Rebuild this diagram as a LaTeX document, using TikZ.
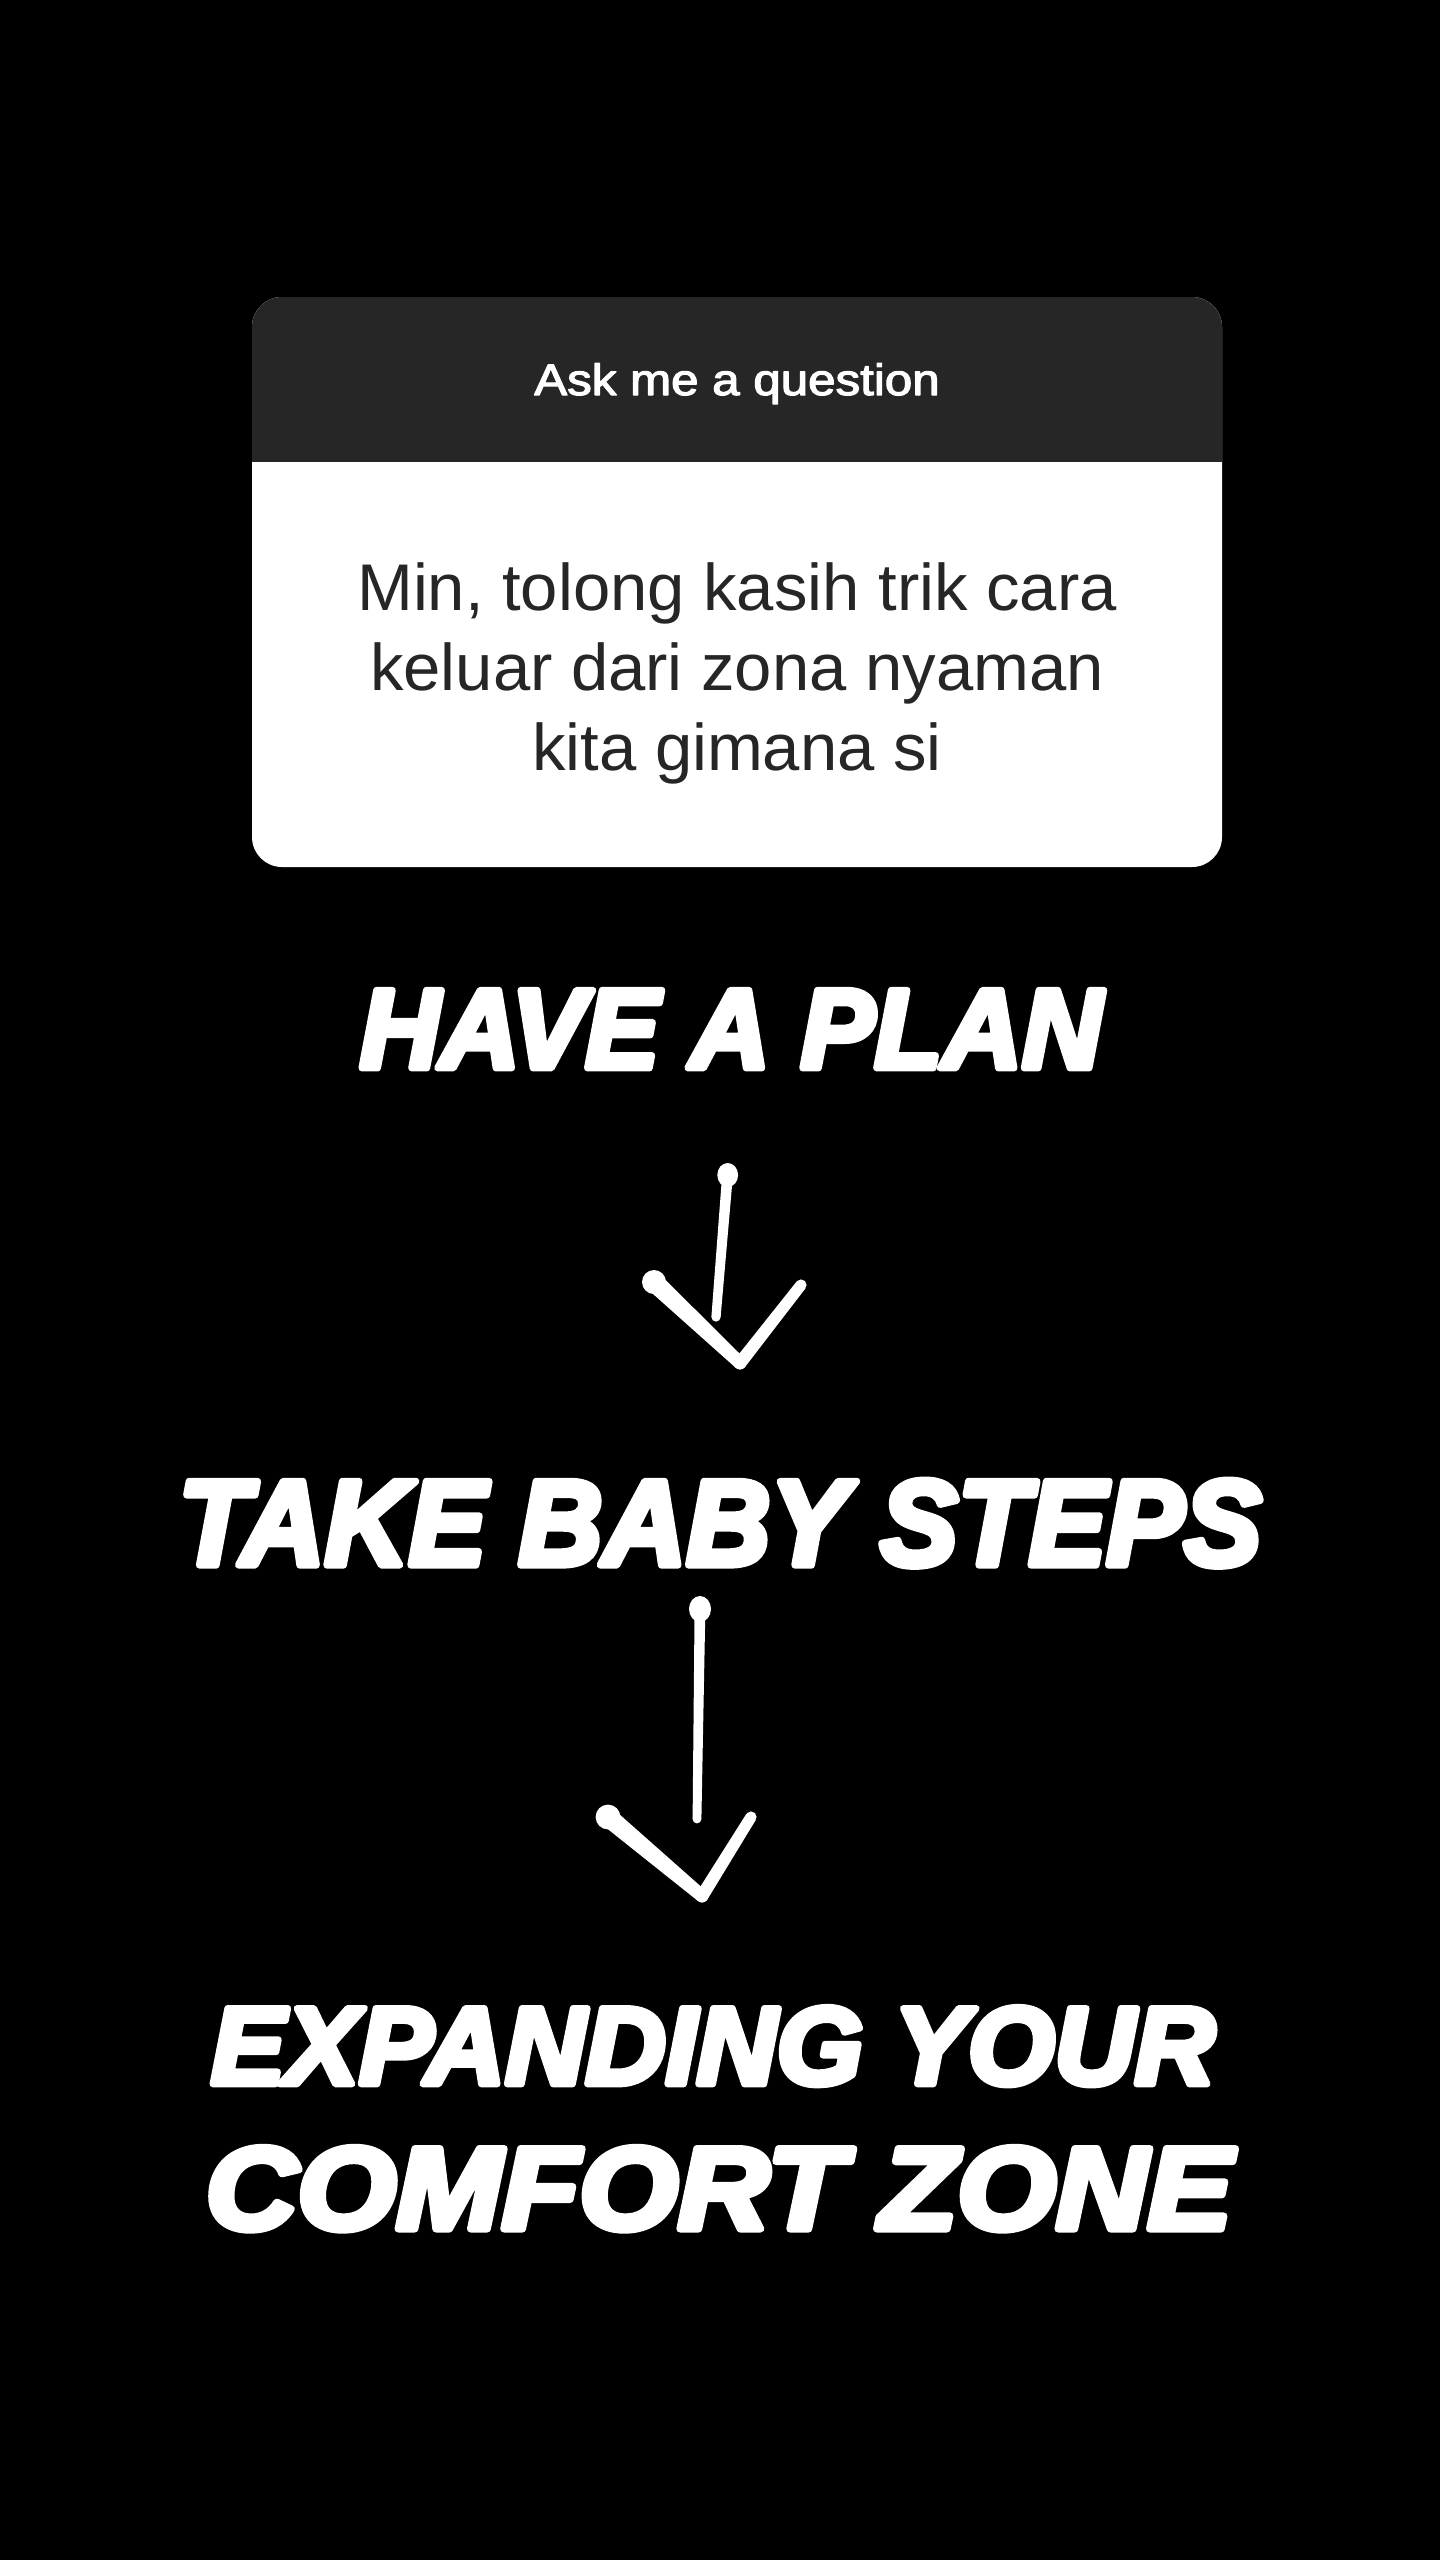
\documentclass[tikz,border=0pt]{standalone}
\usepackage{fontspec}
\setmainfont{Liberation Sans}
\newfontfamily\strongfont{Liberation Sans}[BoldItalicFeatures={FakeBold=6}]
\newfontfamily\medfont{Liberation Sans}[FakeBold=2.6]
\usetikzlibrary{calc}
\definecolor{hdr}{HTML}{262626}
\definecolor{ink}{HTML}{262626}
% tapered stroke between two named coordinates: from, to, half width at from, half width at to
\newcommand\taperstroke[4]{%
  \fill[white] ($(#1)!#3!90:(#2)$) -- ($(#2)!#4!-90:(#1)$) -- ($(#2)!#4!90:(#1)$) -- ($(#1)!#3!-90:(#2)$) -- cycle;
  \fill[white] (#1) circle[radius=#3];
  \fill[white] (#2) circle[radius=#4];}
\begin{document}
\begin{tikzpicture}[x=0.5pt,y=-0.5pt,
  hdrtext/.style={text=white, inner sep=0pt, anchor=base, line join=round, font=\medfont\fontsize{22}{26}\selectfont},
  qline/.style={text=ink, inner sep=0pt, anchor=base, font=\fontsize{33}{40}\selectfont},
  title/.style={text=white, inner sep=0pt, anchor=base, line join=round, miter limit=1},
  blob/.style={white}]
\useasboundingbox (0,0) rectangle (1440,2560);
\fill[black] (0,0) rectangle (1440,2560);
% card
\fill[white, rounded corners=15pt] (252,297) rectangle (1222,867);
\begin{scope}
  \clip[rounded corners=15pt] (252,297) rectangle (1222,867);
  \fill[hdr] (252,297) rectangle (1222,462);
\end{scope}
\node[hdrtext] (ask) at (737,395) {\scalebox{1.12}[1]{Ask me a question}};
\node[qline] (q1) at (737,610) {\scalebox{1.015}[1]{Min, tolong kasih trik cara}};
\node[qline] (q2) at (737,690) {\scalebox{1.015}[1]{keluar dari zona nyaman}};
\node[qline] (q3) at (737,770) {\scalebox{1.015}[1]{kita gimana si}};
% titles
\node[title, font=\strongfont\bfseries\itshape\fontsize{56.5}{60}\selectfont] (plan) at (731,1068) {\scalebox{0.98}[1]{HAVE A PLAN}};
\node[title, font=\strongfont\bfseries\itshape\fontsize{60.75}{64}\selectfont] (steps) at (720,1565) {\scalebox{0.957}[1]{TAKE BABY STEPS}};
\node[title, font=\strongfont\bfseries\itshape\fontsize{55}{60}\selectfont] (expand) at (713,2084) {\scalebox{1.01}[1]{EXPANDING YOUR}};
\node[title, font=\strongfont\bfseries\itshape\fontsize{58.5}{60}\selectfont] (comfort) at (719,2229) {\scalebox{1.084}[1]{COMFORT ZONE}};
% arrow 1 (from plan to steps)
\coordinate (a1t) at (727.7,1173);
\coordinate (a1b) at (716,1317);
\coordinate (a1l) at (654,1282);
\coordinate (a1v) at (740,1363);
\coordinate (a1r) at (801,1285);
\taperstroke{a1t}{a1b}{2.7pt}{2.3pt}
\fill[blob] ($(a1t)+(0,2)$) ellipse[x radius=5.2pt, y radius=6pt];
\taperstroke{a1l}{a1v}{4.8pt}{3.2pt}
\taperstroke{a1v}{a1r}{3.2pt}{2.8pt}
\fill[blob] (a1l) circle[radius=6pt];
% arrow 2 (from steps to expand)
\coordinate (a2t) at (700,1607);
\coordinate (a2b) at (697,1819);
\coordinate (a2l) at (608,1817);
\coordinate (a2v) at (702,1896);
\coordinate (a2r) at (751,1817);
\taperstroke{a2t}{a2b}{2.7pt}{2.2pt}
\fill[blob] ($(a2t)+(0,2)$) ellipse[x radius=5.5pt, y radius=6.5pt];
\taperstroke{a2l}{a2v}{4.8pt}{3.2pt}
\taperstroke{a2v}{a2r}{3.2pt}{2.8pt}
\fill[blob] (a2l) circle[radius=6.2pt];
\end{tikzpicture}
\end{document}
